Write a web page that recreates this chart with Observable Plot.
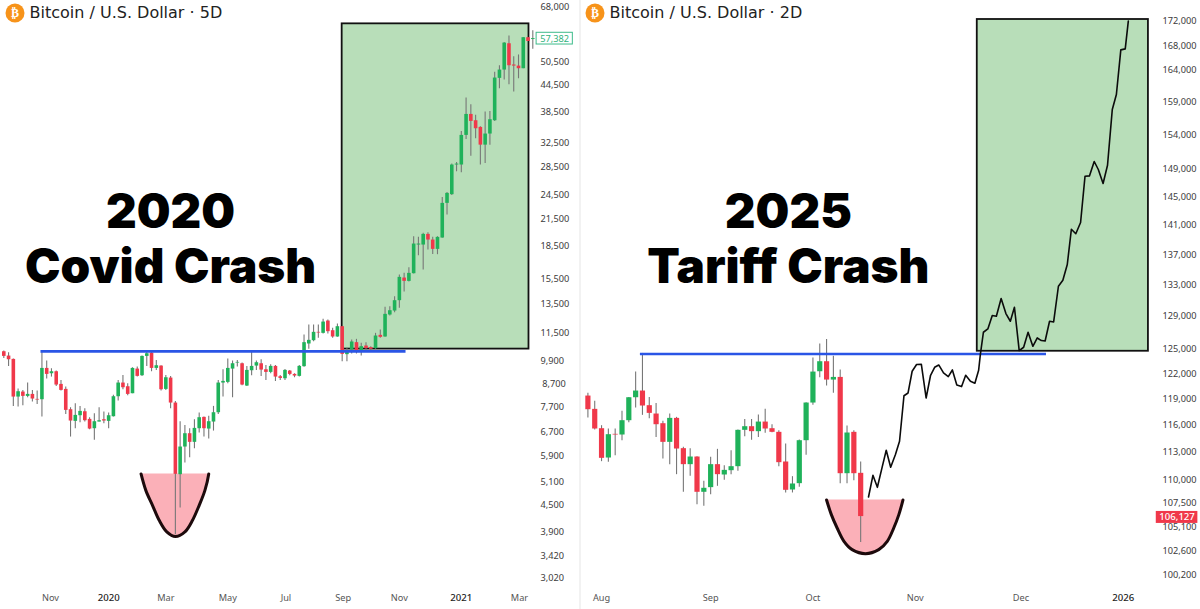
<!DOCTYPE html>
<html><head><meta charset="utf-8">
<script src="https://cdn.jsdelivr.net/npm/d3@7"></script>
<script src="https://cdn.jsdelivr.net/npm/@observablehq/plot@0.6"></script>
<style>
html,body{margin:0;background:#fff;width:1200px;height:609px;overflow:hidden}
#left,#right{position:absolute;top:0}
#left{left:0}#right{left:580px}
#divider{position:absolute;left:579px;top:0;width:2px;height:609px;background:#f2f2f2}
svg{max-width:none!important}
</style></head><body>
<div id="left"></div><div id="divider"></div><div id="right"></div>
<script>
// ---------- 2020 panel (5D candles) ----------
const covidOpen=[10402,10160,9977,8124,8349,8154,8243,8022,8007,9498,9226,9327,8705,8471,7582,7115,7338,7499,7193,6836,7089,7180,7115,7298,8139,8769,8595,8273,9463,9127,10141,10327,9498,9620,8471,9011,7863,5320,6186,6652,6346,6836,7272,6823,7089,7459,8769,8801,9463,9780,9743,8626,9378,9620,9743,9429,9294,9603,9077,8978,9361,9193,9094,9589,10851,11049,11563,11500,12298,11668,11273,11925,10238,10501,10930,10406,10733,10636,10578,11375,11273,12710,12988,13742,15548,15270,15921,18615,18615,19728,19130,18180,19340,23364,24500,28800,28800,33850,37950,36670,35360,32100,34100,36670,46200,48340,55800,49700,49400,48700,57670,57100];
const covidHigh=[10440,10345,9995,8486,8425,8769,8425,8394,10402,9886,9481,9361,8897,8579,7665,7834,7721,7623,7259,7418,7665,7486,7445,8200,8897,9143,8737,9533,9568,10160,10421,10383,9922,9638,9143,9094,7935,7102,6961,6836,7180,7445,7285,7312,7721,8897,9429,9995,9886,9922,9780,9603,10383,9886,9959,9655,9690,9655,9143,9446,9395,9226,9655,11396,12034,12034,12034,12412,12367,11817,12100,11925,10597,11089,11130,10890,10930,10694,11500,11710,13251,13300,14045,15806,15950,16450,19481,19410,19838,19910,19410,19481,24140,24800,28950,29200,34600,41500,40000,37800,35490,38450,38580,47800,49500,56200,58200,52000,52500,57770,57770,59900];
const covidLow=[10031,9603,7721,7693,7749,8095,7906,7806,7285,8962,9060,8611,8394,7391,6532,6836,7063,7089,6799,6415,7089,7025,6836,7285,7949,8455,8183,8273,9060,9094,9603,9327,9395,8394,8425,7623,3832,4438,5669,5837,6130,6676,6532,6462,6749,7391,8124,8737,8095,9568,8642,8611,9127,9395,9094,8897,9226,8849,8897,8897,9127,9027,9060,9555,10540,10990,11191,11459,11459,11191,11252,9854,9854,10275,10275,10163,10464,10464,10540,11191,11252,12640,12872,13180,14408,15217,15893,17563,16243,18114,17690,17660,19305,21925,24400,27760,27600,33100,30200,33240,28790,29050,32100,36530,43660,45800,44600,42900,46100,48700,56500,54170];
const covidClose=[10141,9959,8124,8364,8154,8243,8037,7993,9498,9193,9327,8674,8425,7554,7128,7351,7513,7141,6823,7102,7141,7128,7338,8139,8769,8548,8243,9498,9094,10141,10289,9498,9638,8455,9027,7863,5330,6186,6652,6346,6848,7259,6836,7102,7459,8769,8849,9498,9743,9815,8674,9395,9603,9798,9412,9294,9603,9060,8994,9395,9193,9110,9603,10930,11069,11563,11521,12230,11605,11273,11925,10256,10425,10970,10369,10694,10578,10540,11334,11252,12755,13012,13742,15606,15270,15950,18716,18716,19728,19130,18180,19410,23364,24670,28800,28950,33850,37950,36530,35100,32100,34100,36870,46280,48340,56000,49500,49400,48700,57670,56500,57382];
const covidPriceTicks=[68000,50500,44500,38500,32500,28500,24500,21500,18500,15500,13500,11500,9900,7700,6700,5900,5100,4500,3900,3420,3020];
const covidPatchTick=8700;
const covidMonthTicks=["2019-11-01","2020-03-01","2020-05-05","2020-07-05","2020-09-03","2020-11-01","2021-03-07"];
const covidYearTicks=["2020-01-01","2021-01-05"];
const covidCupDates=["2020-02-04","2020-02-09","2020-02-16","2020-02-23","2020-03-02","2020-03-11","2020-03-21","2020-03-29","2020-04-05","2020-04-11","2020-04-15"];
const covidCupPrices=[5340,4884,4501,4148,3893,3795,3893,4148,4501,4884,5340];
const covidTitles=["2020","Covid Crash"];
const covidTitlePrices=[22235,16475];

// ---------- 2025 panel (2D candles + projection) ----------
const tariffOpen=[119365,117825,115625,112365,114990,114915,116530,119170,119950,118250,117290,116190,114095,116795,113395,111640,112475,108670,109165,111640,110520,110985,111420,115440,115850,115290,116375,115625,115215,111930,108915,109590,114280,118555,122230,123430,121240,121555,110660,115215,110700];
const tariffHigh=[119680,118750,115965,115590,115590,117595,119210,122190,124430,119210,118515,116455,117290,116910,113540,113395,112510,109840,112440,113320,111530,113170,115475,116680,116680,117175,117825,116075,115400,113910,110340,114355,118595,123870,125570,126140,124105,122430,115925,115400,111930];
const tariffLow=[116835,115475,111965,111890,112620,114280,116300,117980,117140,116760,114650,112260,111640,110555,108670,110375,107370,107195,108420,109305,109945,110555,110915,114725,114320,114650,115100,115175,111420,108600,108600,109200,112660,118285,121515,120535,119680,109590,109590,109910,103475];
const tariffClose=[117785,115590,112330,114950,114915,116530,119170,119950,118210,117365,116075,114095,116795,113355,111640,112475,108670,109095,111640,110555,111020,111420,115440,115850,115290,116375,115590,115215,111855,108880,109555,114280,118555,122190,123430,121240,121555,110660,115140,110660,106127];
const tariffPriceTicks=[172000,168000,164000,159000,154000,149000,145000,141000,137000,133000,129000,125000,122000,119000,116000,113000,110000,107500,105100,102600,100200];
const tariffMonthTicks=["2025-08-01","2025-09-02","2025-10-02","2025-11-01","2025-12-02"];
const tariffYearTicks=["2026-01-01"];
const projectionDays=[78.3,79.6,80.9,82.2,83.5,84.8,86.2,87.4,88.7,89.9,91.1,92.4,93.8,95.2,96.5,97.7,98.9,100.3,101.7,102.9,104.2,105.6,106.8,108.2,109.5,110.6,111.1,112,113.3,114.6,115.8,117.2,118.6,119.9,121.1,122.5,123.8,125.1,126.5,127.8,129,130.1,131.4,132.6,134,135.3,136.6,137.8,139.1,140.5,141.8,143.1,144.5,145.7,147.1,148.4,149.8,151,152.3,153.6,154.5];
const projectionPrices=[108173,110487,109201,111211,113215,111353,112741,114214,119399,119725,122286,123089,123114,119141,121810,122764,123040,122084,121655,122441,120663,120474,121810,121099,120863,122405,124295,127029,127439,129115,129028,131275,129368,128399,130165,124781,125183,127029,125305,126324,126002,125953,128399,128312,132860,133639,135703,140457,139841,141378,147910,147954,150046,148880,146860,149506,157856,160184,167307,167471,172059];
const tariffCupDays=[66,67.4,69.1,71.1,73.5,77.4,81.3,83.8,85.7,87.2,88.4];
const tariffCupPrices=[107856,106330,104950,103597,102761,102360,102761,103597,104950,106330,107856];
const tariffTitles=["2025","Tariff Crash"];
const tariffTitlePrices=[142660,135210];

// ---------- styles ----------
const UP="#1fb25a",DOWN="#f0384a",WICK="#777777",BOX="#b8deb9",PINK="#fbb0b8",BLUE="#2a55e6";
const FONT="'Noto Sans',sans-serif",HEAD="Inter,sans-serif",AXIS="#3c3c3c";

const utc=s=>new Date(s+"T00:00:00Z");
const candles=(o,h,l,c,start,step)=>o.map((v,i)=>({date:d3.utcDay.offset(start,step*i),open:v,high:h[i],low:l[i],close:c[i]}));
const body=(rows,w,color)=>Plot.ruleX(rows,{x:"date",y1:"open",y2:"close",stroke:color,strokeWidth:w});
const fmtM=d3.utcFormat("%b"),fmtY=d3.utcFormat("%Y"),fmtP=d3.format(",");
const axisP=ticks=>Plot.axisY({anchor:"right",ticks,tickFormat:fmtP,tickSize:0,tickPadding:0,label:null,fontSize:9.2,fill:AXIS});

function panel(o){
  const up=o.rows.filter(d=>d.close>=d.open),down=o.rows.filter(d=>d.close<d.open);
  return Plot.plot({
    width:o.width,height:609,marginLeft:0,marginTop:0,marginRight:o.marginRight,marginBottom:15,
    style:{background:"transparent",fontFamily:FONT},
    x:{type:"utc",domain:o.xDomain,range:o.xRange},
    y:{type:"log",domain:o.yDomain,range:o.yRange},
    marks:[
      axisP(o.priceTicks),
      Plot.axisX({anchor:"bottom",ticks:o.monthTicks.map(utc),tickFormat:fmtM,tickSize:0,tickPadding:0,label:null,fontSize:9.2,fill:"#555"}),
      Plot.axisX({anchor:"bottom",ticks:o.yearTicks.map(utc),tickFormat:fmtY,tickSize:0,tickPadding:0,label:null,fontSize:9.6,fontWeight:500,fill:"#222"}),
      Plot.rect([o.box],{x1:"x1",x2:"x2",y1:"y1",y2:"y2",fill:BOX,stroke:"#111",strokeWidth:1.8}),
      Plot.areaY(o.cup,{x:"x",y1:o.cupTop,y2:"y",fill:PINK,curve:"catmull-rom"}),
      Plot.ruleX(o.rows,{x:"date",y1:"low",y2:"high",stroke:WICK,strokeWidth:1.1}),
      body(up,o.bodyW,UP),body(down,o.bodyW,DOWN),
      Plot.line(o.cup,{x:"x",y:"y",stroke:"#1d0a0c",strokeWidth:3,curve:"catmull-rom"}),
      Plot.ruleY([o.level],{y:d=>d.y,x1:d=>d.x1,x2:d=>d.x2,stroke:BLUE,strokeWidth:2.6}),
      ...(o.extra||[]),
      Plot.dot([0],{frameAnchor:"top-left",dx:14.5,dy:12.5,r:9.5,fill:"#f7931a"}),
      Plot.text(["₿"],{frameAnchor:"top-left",dx:14.5,dy:12.5,lineAnchor:"middle",textAnchor:"middle",fill:"#fff",fontSize:12,fontWeight:700,fontFamily:"'DejaVu Sans'"}),
      Plot.text([o.header],{frameAnchor:"top-left",dx:29,dy:12.5,lineAnchor:"middle",textAnchor:"start",fontSize:16,fill:"#222",fontFamily:"'DejaVu Sans'"}),
      Plot.text(o.titles,{x:()=>o.titleDate,y:(d,i)=>o.titlePrices[i],text:d=>d,fontFamily:HEAD,fontWeight:900,fontSize:47.6,fill:"#000",lineAnchor:"middle"}),
    ]
  });
}

const covidRows=candles(covidOpen,covidHigh,covidLow,covidClose,utc("2019-09-13"),5);
document.getElementById("left").append(panel({
  width:580,marginRight:40,
  rows:covidRows,bodyW:3.6,
  xDomain:[utc("2019-09-13"),utc("2021-03-21")],xRange:[3.3,532.3],
  yDomain:[3020,68000],yRange:[578,7],
  priceTicks:covidPriceTicks,monthTicks:covidMonthTicks,yearTicks:covidYearTicks,
  box:{x1:utc("2020-09-02"),x2:utc("2021-03-17"),y1:62200,y2:10553},
  cup:covidCupDates.map((d,i)=>({x:utc(d),y:covidCupPrices[i]})),cupTop:5340,
  level:{y:10421,x1:utc("2019-10-22"),x2:utc("2020-11-08")},
  header:"Bitcoin / U.S. Dollar · 5D",
  titles:covidTitles,titlePrices:covidTitlePrices,titleDate:utc("2020-03-06"),
  extra:[
    Plot.text([covidPatchTick],{x:()=>utc("2021-03-31"),y:d=>d,text:d=>fmtP(d),textAnchor:"start",lineAnchor:"middle",fill:AXIS,fontSize:9.2,fontFamily:FONT}),
    Plot.rect([0],{x1:()=>utc("2021-03-25"),x2:()=>utc("2021-05-02"),y1:()=>59240,y2:()=>55570,fill:"#fff",stroke:"#3dbb8a",strokeWidth:1}),
    Plot.text(["57,382"],{x:()=>utc("2021-04-13"),y:()=>57382,fill:"#2fb27c",fontSize:9.2,fontFamily:FONT}),
  ]
}));

const tariffStart=utc("2025-08-01");
const atDay=d=>new Date(+tariffStart+d*864e5);
const tariffRows=candles(tariffOpen,tariffHigh,tariffLow,tariffClose,utc("2025-07-28"),2);
const projection=projectionDays.map((d,i)=>({x:atDay(d),y:projectionPrices[i]}));
document.getElementById("right").append(panel({
  width:620,marginRight:38,
  rows:tariffRows,bodyW:5.2,
  xDomain:[utc("2025-07-28"),utc("2026-01-01")],xRange:[7.4,542.7],
  yDomain:[100200,172000],yRange:[575,21],
  priceTicks:tariffPriceTicks,monthTicks:tariffMonthTicks,yearTicks:tariffYearTicks,
  box:{x1:atDay(110.2),x2:atDay(160.4),y1:172336,y2:124695},
  cup:tariffCupDays.map((d,i)=>({x:atDay(d),y:tariffCupPrices[i]})),cupTop:107856,
  level:{y:124367,x1:atDay(11.4),x2:atDay(130.5)},
  header:"Bitcoin / U.S. Dollar · 2D",
  titles:tariffTitles,titlePrices:tariffTitlePrices,titleDate:atDay(54.8),
  extra:[
    Plot.line(projection,{x:"x",y:"y",stroke:"#0b0b0b",strokeWidth:1.6}),
    Plot.rect([0],{x1:()=>atDay(162.7),x2:()=>atDay(174.9),y1:()=>106660,y2:()=>105420,fill:"#f0384a"}),
    Plot.text(["106,127"],{x:()=>atDay(168.8),y:()=>106127,fill:"#fff",fontSize:9.6,fontWeight:500,fontFamily:FONT}),
  ]
}));
</script>
</body></html>
